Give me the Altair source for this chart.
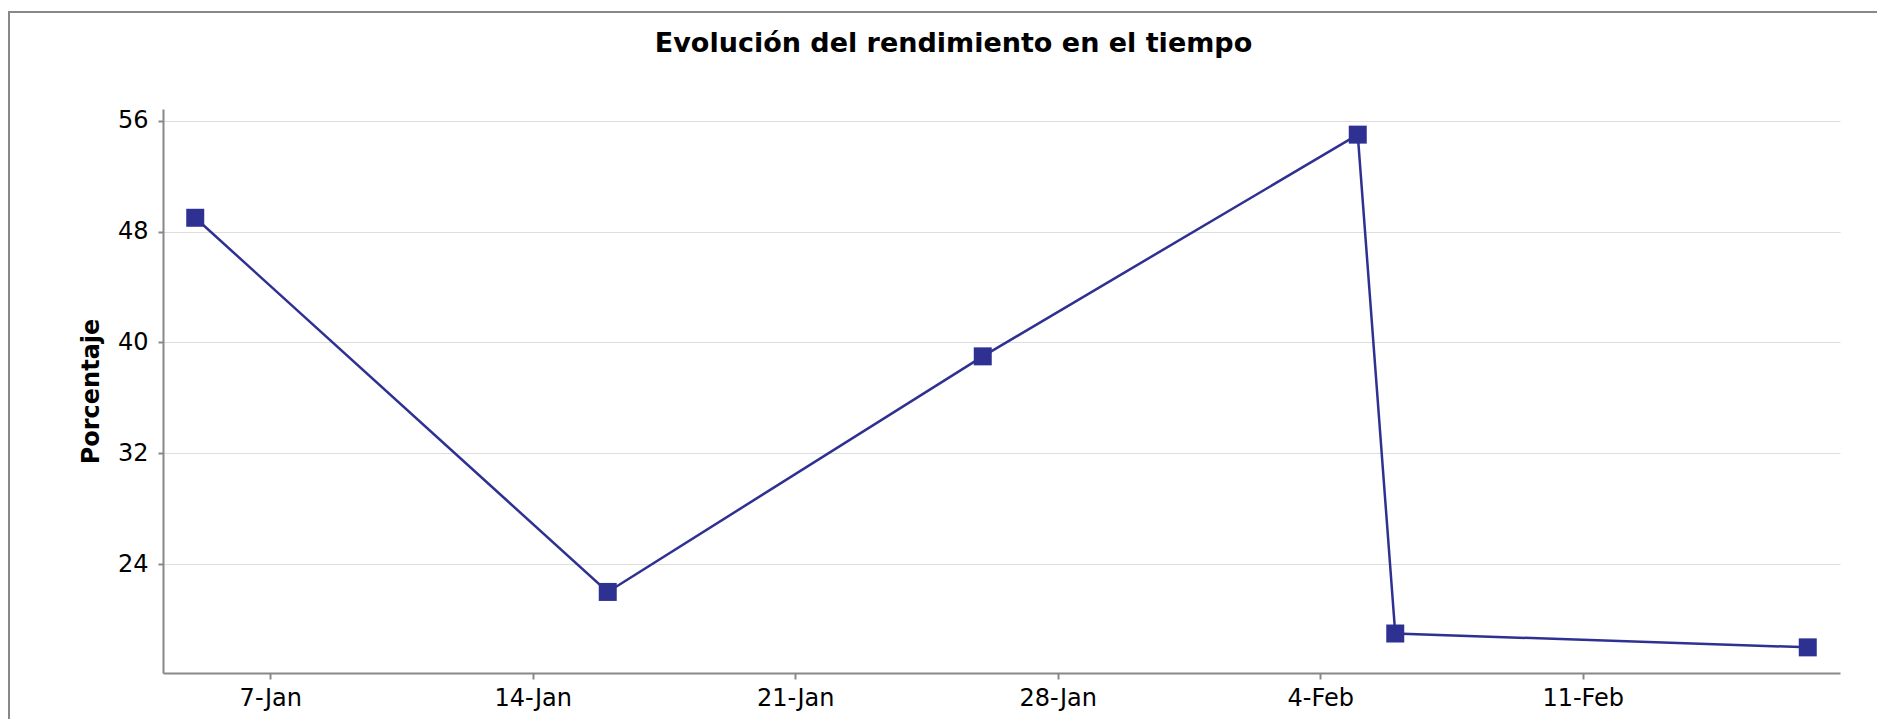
import altair as alt
import pandas as pd

fechas = ["2024-01-05T00:00:00", "2024-01-16T00:00:00", "2024-01-26T00:00:00",
          "2024-02-05T00:00:00", "2024-02-06T00:00:00", "2024-02-17T00:00:00"]
porcentaje = [49, 22, 39, 55, 19, 18]
tick_dias = [(1, 7), (1, 14), (1, 21), (1, 28), (2, 4), (2, 11)]
y_ticks = [24, 32, 40, 48, 56]

df = pd.DataFrame({"fecha": fechas, "valor": porcentaje})

COLOR = "#2e3192"
FONT = "DejaVu Sans"

x_enc = alt.X(
    "fecha:T",
    title=None,
    scale=alt.Scale(domain=[alt.DateTime(year=2024, month=1, date=4, hours=3, minutes=22),
                            alt.DateTime(year=2024, month=2, date=17, hours=20, minutes=38)]),
    axis=alt.Axis(values=[alt.DateTime(year=2024, month=m, date=d) for m, d in tick_dias],
                  format="%-d-%b", grid=False, labelFontSize=24, labelFont=FONT,
                  labelColor="#000", labelPadding=7, tickSize=6, tickColor="#888",
                  tickWidth=2, domainColor="#888", domainWidth=2),
)
y_enc = alt.Y(
    "valor:Q",
    title="Porcentaje",
    scale=alt.Scale(domain=[16.15, 56.85], nice=False, zero=False),
    axis=alt.Axis(values=y_ticks, grid=True, gridColor="#dddddd", gridWidth=1,
                  labelFontSize=24, labelFont=FONT, labelColor="#000", labelPadding=10,
                  tickSize=5, tickColor="#888", tickWidth=2, domainColor="#888",
                  domainWidth=2, titleFont=FONT, titleFontSize=24, titleFontWeight="bold",
                  titleColor="#000", titlePadding=14),
)

line = alt.Chart(df).mark_line(color=COLOR, strokeWidth=2.5).encode(x=x_enc, y=y_enc)
points = alt.Chart(df).mark_point(shape="square", filled=True, size=324, color=COLOR,
                                  opacity=1).encode(x=x_enc, y=y_enc)

frame_df = pd.DataFrame({"a": [0]})
top_edge = alt.Chart(frame_df).mark_rule(color="#888", strokeWidth=2, clip=False).encode(
    x=alt.value(-155), x2=alt.value(1760), y=alt.value(-97))
left_edge = alt.Chart(frame_df).mark_rule(color="#888", strokeWidth=2, clip=False).encode(
    x=alt.value(-154), y=alt.value(-98), y2=alt.value(700))

chart = alt.layer(top_edge, left_edge, line, points).properties(
    width=1677,
    height=564,
    title=alt.TitleParams("Evolución del rendimiento en el tiempo", font=FONT, fontSize=27,
                          fontWeight="bold", color="#000", anchor="middle", frame="group",
                          baseline="alphabetic", dx=-48, dy=69, offset=0),
    autosize=alt.AutoSizeParams(type="none"),
    padding={"left": 155, "top": 101, "right": 37, "bottom": 46},
).configure(background="white").configure_view(strokeOpacity=0, strokeWidth=0)

chart.save("out.html", embed_options={"renderer": "svg", "actions": False})
